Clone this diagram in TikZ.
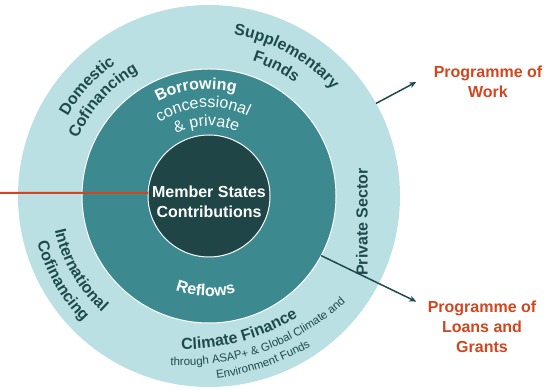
\documentclass[tikz,border=0pt]{standalone}
\usepackage{fontspec}
\setmainfont{Liberation Sans}
\usetikzlibrary{arrows.meta,decorations.text}

\definecolor{ringlight}{RGB}{187,224,227}
\definecolor{ringmid}{RGB}{60,138,143}
\definecolor{ringdark}{RGB}{31,69,71}
\definecolor{labeldark}{RGB}{31,74,77}
\definecolor{outred}{RGB}{210,70,30}

\newcommand{\ringbold}{\color{labeldark}\bfseries\fontsize{16}{19}\selectfont}
\newcommand{\ringsmall}{\color{labeldark}\fontsize{11.5}{14}\selectfont}
\newcommand{\innerbold}{\color{white}\bfseries\fontsize{16}{19}\selectfont}
\newcommand{\innerreg}{\color{white}\fontsize{16}{19}\selectfont}

\tikzset{
  ring/.style={circle, inner sep=0pt, outer sep=0pt},
  arctext/.style={decorate, decoration={text along path, text align=center}},
  outlabel/.style={text=outred, font=\bfseries\fontsize{16}{20}\selectfont, align=center},
  flow/.style={draw=labeldark, line width=1.5pt, -{Stealth[length=7pt,width=6pt]}},
}

\begin{document}
\begin{tikzpicture}[x=1pt,y=1pt]
  \useasboundingbox (0,0) rectangle (554,390);
  \coordinate (c) at (209,194);
  \coordinate (cf) at (181.8,265.6);

  \node[ring, fill=ringlight, minimum size=382pt] (outer) at (c) {};
  \node[ring, fill=ringmid, draw=white, line width=1pt, minimum size=254pt] (middle) at (c) {};
  \node[ring, fill=ringdark, draw=white, line width=1pt, minimum size=122pt] (msc) at (c) {};
  \node[text=white, font=\bfseries\fontsize{16}{20}\selectfont, align=center] (msclabel) at (209,188.5) {Member States\\Contributions};

  % outer ring
  \path[arctext, decoration={text={|\ringbold|Domestic}}] ([shift={(188:162)}]c) arc[start angle=188, end angle=88, radius=162];
  \path[arctext, decoration={text={|\ringbold|Cofinancing}}] ([shift={(188:143)}]c) arc[start angle=188, end angle=88, radius=143];
  \path[arctext, decoration={text={|\ringbold|Supplementary}}] ([shift={(111:163)}]c) arc[start angle=111, end angle=11, radius=163];
  \path[arctext, decoration={text={|\ringbold|Funds}}] ([shift={(112.5:142)}]c) arc[start angle=112.5, end angle=12.5, radius=142];
  \path[arctext, decoration={text={|\ringbold|International}}] ([shift={(170:158)}]c) arc[start angle=170, end angle=250, radius=158];
  \path[arctext, decoration={text={|\ringbold|Cofinancing}}] ([shift={(170:178)}]c) arc[start angle=170, end angle=250, radius=178];
  \path[arctext, decoration={text={|\ringbold|Climate Finance}}] ([shift={(235:225)}]cf) arc[start angle=235, end angle=336, radius=225];
  \path[arctext, decoration={text={|\ringsmall|through ASAP+ {\&} Global Climate and}}] ([shift={(240:241.5)}]cf) arc[start angle=240, end angle=340, radius=241.5];
  \path[arctext, decoration={text={|\ringsmall|Environment Funds}}] ([shift={(250:256.5)}]cf) arc[start angle=250, end angle=328, radius=256.5];
  \node[rotate=90, text=labeldark, font=\bfseries\fontsize{16}{19}\selectfont] (private) at (362,168) {Private Sector};

  % middle ring
  \path[arctext, decoration={text={|\innerbold|Borrowing}}] ([shift={(147:107)}]c) arc[start angle=147, end angle=47, radius=107];
  \path[arctext, decoration={text={|\innerreg|concessional}}] ([shift={(144:88.5)}]c) arc[start angle=144, end angle=44, radius=88.5];
  \path[arctext, decoration={text={|\innerreg|{\&} private}}] ([shift={(142:70)}]c) arc[start angle=142, end angle=42, radius=70];
  \path[arctext, decoration={text={|\innerbold|Reflows}}] ([shift={(218:100)}]c) arc[start angle=218, end angle=318, radius=100];

  \node[outlabel] (pow) at (488,308) {Programme of\\Work};
  \node[outlabel] (plg) at (482,63) {Programme of\\Loans and\\Grants};

  \coordinate (feed) at (0,197.2);
  \draw[outred, line width=2pt] (feed) -- (msc.177);
  \draw[flow] (outer.29.5) -- ([xshift=-14pt]pow.west);
  \draw[flow] (middle.-28.4) -- ([shift={(-8pt,-4pt)}]plg.north west);
\end{tikzpicture}
\end{document}
